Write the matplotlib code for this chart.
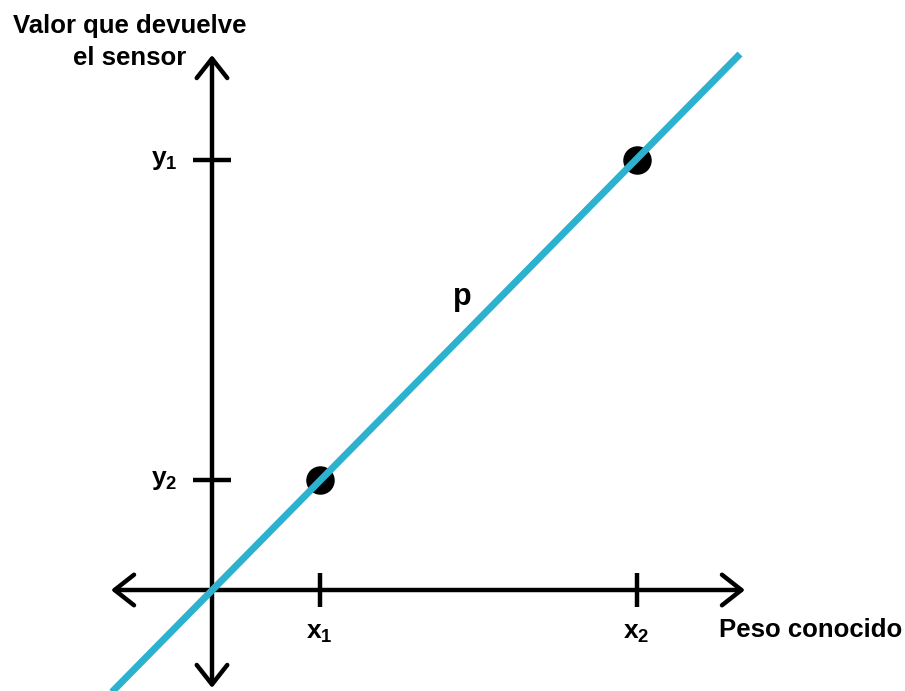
import matplotlib
matplotlib.use("Agg")
import matplotlib.pyplot as plt

plt.rcParams["mathtext.fontset"] = "custom"
plt.rcParams["mathtext.bf"] = "Liberation Sans:bold"
plt.rcParams["mathtext.rm"] = "Liberation Sans:bold"

# ---- data (pixel-like units, origin at the axes crossing) ----
point_x = [108, 425]
point_y = [110, 430]
line_x = [-104, 528]
line_y = [-106, 536]
x_ticks = [108, 425]
x_tick_labels = [r"$\mathbf{x_1}$", r"$\mathbf{x_2}$"]
y_ticks = [110, 430]
y_tick_labels = [r"$\mathbf{y_2}$", r"$\mathbf{y_1}$"]
x_axis_label = "Peso conocido"
y_axis_label = "Valor que devuelve\nel sensor"
line_label = "p"

FAM = ["Liberation Sans", "DejaVu Sans"]
BLUE = "#2cb2cf"

fig = plt.figure(figsize=(9.05, 6.91), dpi=100)
ax = fig.add_axes([0, 0, 1, 1])
ax.set_xlim(-212, 693)
ax.set_ylim(-101, 590)
ax.axis("off")

arrow_style = "<->,head_length=0.7,head_width=0.55"
ax.annotate("", xy=(533, 0), xytext=(-101, 0),
            arrowprops=dict(arrowstyle=arrow_style, lw=3.2, color="black",
                            mutation_scale=20, shrinkA=0, shrinkB=0))
ax.annotate("", xy=(0, 535), xytext=(0, -98),
            arrowprops=dict(arrowstyle=arrow_style, lw=3.2, color="black",
                            mutation_scale=20, shrinkA=0, shrinkB=0))

# ticks
ax.plot(x_ticks, [0] * len(x_ticks), ls="none", marker="|", markersize=24,
        markeredgewidth=3.2, color="black")
ax.plot([0] * len(y_ticks), y_ticks, ls="none", marker="_", markersize=27,
        markeredgewidth=3.2, color="black")

# points and line
ax.plot(point_x, point_y, ls="none", marker="o", markersize=19.5, color="black", zorder=3)
ax.plot(line_x, line_y, color=BLUE, lw=5, solid_capstyle="butt", zorder=4)

# labels
for xv, lab in zip(x_ticks, x_tick_labels):
    ax.text(xv - 1, -43, lab, ha="center", va="center", fontsize=19,
            fontweight="bold", family=FAM)
for yv, lab in zip(y_ticks, y_tick_labels):
    ax.text(-48, yv, lab, ha="center", va="center", fontsize=19,
            fontweight="bold", family=FAM)
ax.text(507, -40, x_axis_label, ha="left", va="center", fontsize=18.5,
        fontweight="bold", family=FAM)
ax.text(-82, 548, y_axis_label, ha="center", va="center", fontsize=18.5,
        fontweight="bold", family=FAM, linespacing=1.4)
ax.text(250, 293, line_label, ha="center", va="center", fontsize=22,
        fontweight="bold", family=FAM)

fig.savefig("out.png", dpi=100)
